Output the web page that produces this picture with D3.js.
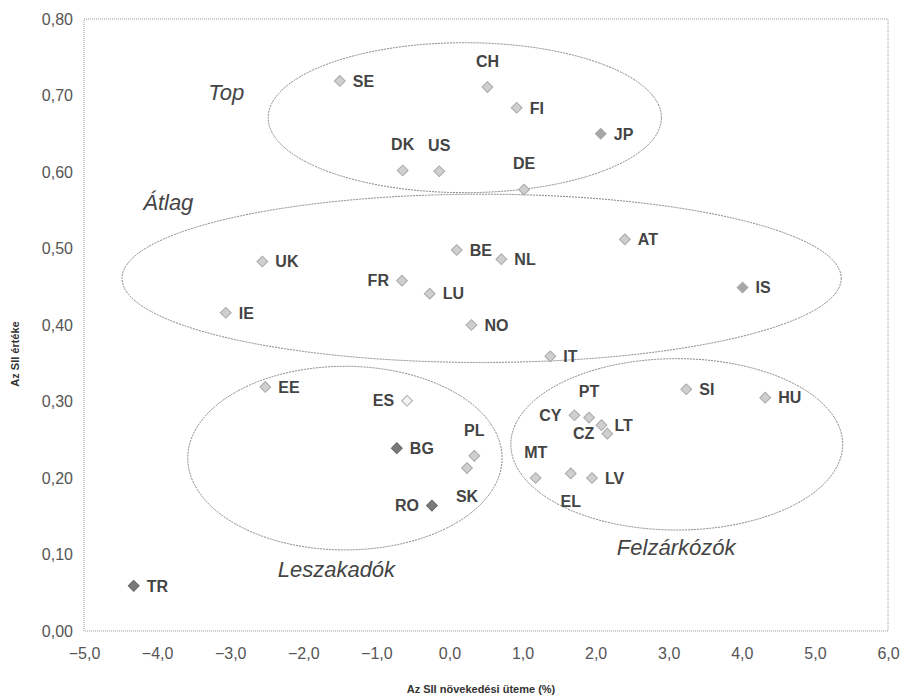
<!DOCTYPE html>
<html lang="hu">
<head>
<meta charset="UTF-8"/>
<title>SII scatter</title>
<script src="https://d3js.org/d3.v7.min.js"></script>
<style>
  body { margin: 0; background: #fff; }
  svg { font-family: "Liberation Sans", Arial, sans-serif; }
</style>
</head>
<body>
<script>
    // countries, SII growth rate (%) and SII value
    var countries = ["SE","CH","FI","JP","DE","DK","US","UK","FR","LU","IE","BE","NL","AT","IS","NO","IT",
                     "EE","ES","BG","RO","TR","PL","SK","MT","EL","LV","CY","PT","LT","CZ","SI","HU"];
    var growth = [-1.50, 0.52, 0.92, 2.07, 1.02, -0.64, -0.14, -2.56, -0.65, -0.27, -3.06, 0.10, 0.71, 2.40, 4.01, 0.30, 1.38,
                  -2.52, -0.58, -0.72, -0.24, -4.32, 0.34, 0.24, 1.18, 1.66, 1.95, 1.71, 1.91, 2.08, 2.16, 3.24, 4.32];
    var sii = [0.719, 0.711, 0.684, 0.650, 0.577, 0.602, 0.601, 0.483, 0.458, 0.441, 0.416, 0.498, 0.486, 0.512, 0.449, 0.400, 0.359,
               0.319, 0.301, 0.239, 0.164, 0.059, 0.229, 0.213, 0.200, 0.206, 0.200, 0.282, 0.279, 0.269, 0.258, 0.316, 0.305];

    var darkMarkers = ["BG", "RO", "TR"];
    var midMarkers = ["JP", "IS"];
    var paleMarkers = ["ES"];

    // groups (ellipses in data units)
    var groupNames = ["Top", "Átlag", "Leszakadók", "Felzárkózók"];
    var groupCx = [0.21, 0.44, -1.43, 3.11];
    var groupCy = [0.671, 0.461, 0.226, 0.244];
    var groupRx = [2.69, 4.92, 2.15, 2.27];
    var groupRy = [0.098, 0.110, 0.120, 0.112];
    var groupLabelX = [-3.30, -4.19, -2.35, 2.29];
    var groupLabelY = [0.694, 0.550, 0.071, 0.099];

    var xTicks = [-5, -4, -3, -2, -1, 0, 1, 2, 3, 4, 5, 6];
    var yTicks = [0, 0.1, 0.2, 0.3, 0.4, 0.5, 0.6, 0.7, 0.8];

    // where each label sits relative to its marker
    var labelSide = { CH: "t", DE: "t", DK: "t", US: "t", PL: "t", MT: "t", PT: "t",
                      SK: "b", EL: "b",
                      FR: "l", ES: "l", RO: "l", CY: "l", CZ: "l" };

    var w = 903, h = 697;
    var padL = 84, padR = 888, padT = 19, padB = 631;

    var svg = d3.select("body").append("svg")
        .attr("width", w)
        .attr("height", h);

    var xScale = d3.scaleLinear().domain([-5, 6]).range([padL, padR]);
    var yScale = d3.scaleLinear().domain([0, 0.8]).range([padB, padT]);

    var loc = d3.formatLocale({ decimal: ",", thousands: " ", grouping: [3], currency: ["", ""] });

    // dotted plot frame
    svg.append("rect")
        .attr("x", padL).attr("y", padT)
        .attr("width", padR - padL).attr("height", padB - padT)
        .attr("fill", "none")
        .attr("stroke", "#9a9a9a")
        .attr("stroke-width", 1)
        .attr("stroke-dasharray", "1,1");

    var xAxis = d3.axisBottom(xScale).tickValues(xTicks).tickSize(0).tickPadding(17)
        .tickFormat(loc.format(".1f"));
    var gx = svg.append("g")
        .attr("transform", "translate(0," + padB + ")")
        .call(xAxis);

    var yAxis = d3.axisLeft(yScale).tickValues(yTicks).tickSize(0).tickPadding(11)
        .tickFormat(loc.format(".2f"));
    var gy = svg.append("g")
        .attr("transform", "translate(" + padL + ",0)")
        .call(yAxis);

    [gx, gy].forEach(function(g) {
        g.select(".domain").remove();
        g.selectAll("text")
            .attr("font-size", "16px")
            .attr("font-family", "'Liberation Sans', Arial, sans-serif")
            .attr("fill", "#555");
    });

    // axis titles
    svg.append("text")
        .attr("x", 481).attr("y", 693)
        .attr("text-anchor", "middle")
        .attr("font-size", "11px")
        .attr("font-weight", "bold")
        .attr("fill", "#333")
        .text("Az SII növekedési üteme (%)");

    svg.append("text")
        .attr("transform", "translate(19,354) rotate(-90)")
        .attr("text-anchor", "middle")
        .attr("font-size", "11px")
        .attr("font-weight", "bold")
        .attr("fill", "#333")
        .text("Az SII értéke");

    // group ellipses
    svg.selectAll("ellipse.group")
        .data(groupNames)
        .enter()
        .append("ellipse")
        .attr("class", "group")
        .attr("cx", function(d, i) { return xScale(groupCx[i]); })
        .attr("cy", function(d, i) { return yScale(groupCy[i]); })
        .attr("rx", function(d, i) { return xScale(groupRx[i]) - xScale(0); })
        .attr("ry", function(d, i) { return yScale(0) - yScale(groupRy[i]); })
        .attr("fill", "none")
        .attr("stroke", "#777")
        .attr("stroke-width", 0.9)
        .attr("stroke-dasharray", "2,1");

    svg.selectAll("text.group")
        .data(groupNames)
        .enter()
        .append("text")
        .attr("class", "group")
        .attr("x", function(d, i) { return xScale(groupLabelX[i]); })
        .attr("y", function(d, i) { return yScale(groupLabelY[i]); })
        .attr("font-size", "22px")
        .attr("font-style", "italic")
        .attr("fill", "#444")
        .text(function(d) { return d; });

    // markers
    var diamond = d3.symbol().type(d3.symbolSquare).size(58);

    svg.selectAll("path.pt")
        .data(countries)
        .enter()
        .append("path")
        .attr("class", "pt")
        .attr("d", diamond)
        .attr("transform", function(d, i) {
            return "translate(" + xScale(growth[i]) + "," + yScale(sii[i]) + ") rotate(45)";
        })
        .attr("fill", function(d) {
            if (darkMarkers.indexOf(d) >= 0) return "#7a7a7a";
            if (midMarkers.indexOf(d) >= 0) return "#a6a6a6";
            if (paleMarkers.indexOf(d) >= 0) return "#f2f2f2";
            return "#cfcfcf";
        })
        .attr("stroke", function(d) {
            if (darkMarkers.indexOf(d) >= 0) return "#666";
            return "#a8a8a8";
        })
        .attr("stroke-width", 1);

    // country labels
    svg.selectAll("text.lbl")
        .data(countries)
        .enter()
        .append("text")
        .attr("class", "lbl")
        .attr("x", function(d, i) {
            var s = labelSide[d] || "r";
            var x = xScale(growth[i]);
            if (s === "r") return x + 13;
            if (s === "l") return x - 13;
            return x;
        })
        .attr("y", function(d, i) {
            var s = labelSide[d] || "r";
            var y = yScale(sii[i]);
            if (s === "t") return y - 26;
            if (s === "b") return y + 28;
            return y;
        })
        .attr("dy", "0.36em")
        .attr("text-anchor", function(d) {
            var s = labelSide[d] || "r";
            if (s === "r") return "start";
            if (s === "l") return "end";
            return "middle";
        })
        .attr("font-size", "16px")
        .attr("font-weight", "bold")
        .attr("fill", "#444")
        .text(function(d) { return d; });
</script>
</body>
</html>
